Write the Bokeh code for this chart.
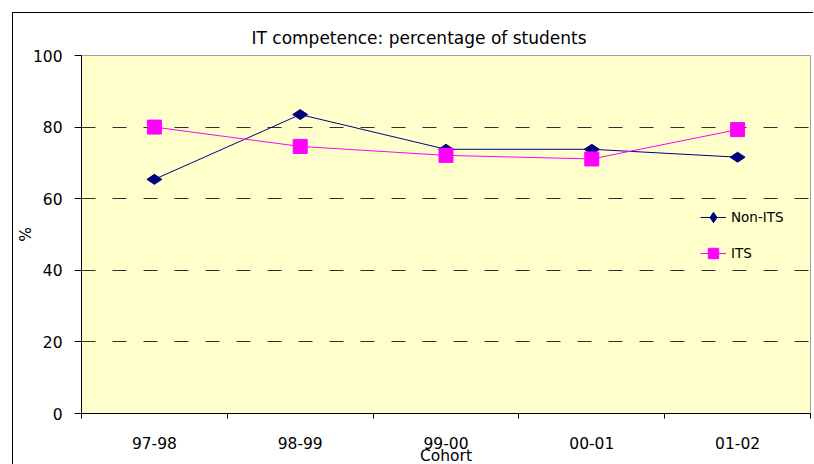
import math
from bokeh.plotting import figure
from bokeh.models import FixedTicker, Legend, LegendItem, Range1d
from bokeh.embed import file_html
from bokeh.resources import INLINE

cohorts = ["97-98", "98-99", "99-00", "00-01", "01-02"]
non_its = [65.4, 83.5, 73.8, 73.8, 71.6]
its = [80.0, 74.6, 72.1, 71.1, 79.3]
y_ticks = [0, 20, 40, 60, 80, 100]

FONT = "DejaVu Sans"

xs = [i + 0.5 for i in range(len(cohorts))]

p = figure(width=801, height=455, output_backend="svg", toolbar_location=None,
           x_range=Range1d(0, len(cohorts)), y_range=Range1d(0, 100),
           min_border_left=68, min_border_right=4, min_border_top=42, min_border_bottom=55,
           title="IT competence: percentage of students")
p.margin = (12, 0, -4, 12)
p.styles = {"border-left": "1px solid black", "border-top": "1px solid black"}

p.background_fill_color = "#FFFFCC"
p.border_fill_color = "white"
p.outline_line_color = "#A0A0A0"
p.outline_line_width = 1

p.title.text_font = FONT
p.title.text_font_size = "17px"
p.title.text_font_style = "normal"
p.title.text_color = "black"
p.title.align = "left"
p.title.offset = 170
p.title.standoff = 15

# x axis
p.xaxis.ticker = FixedTicker(ticks=xs, minor_ticks=list(range(len(cohorts) + 1)))
p.xaxis.major_label_overrides = {x: c for x, c in zip(xs, cohorts)}
p.xaxis.major_tick_line_color = None
p.xaxis.minor_tick_line_color = "black"
p.xaxis.minor_tick_out = 5
p.xaxis.minor_tick_in = 0
p.xaxis.major_label_standoff = 17
p.xaxis.major_label_text_font = FONT
p.xaxis.major_label_text_font_size = "15.5px"
p.xaxis.major_label_text_color = "black"
p.xaxis.axis_label = "Cohort"
p.xaxis.axis_label_text_font = FONT
p.xaxis.axis_label_text_font_size = "15.5px"
p.xaxis.axis_label_text_font_style = "normal"
p.xaxis.axis_label_text_color = "black"
p.xaxis.axis_label_standoff = -5
p.xaxis.axis_line_color = "black"

# y axis
p.yaxis.ticker = FixedTicker(ticks=y_ticks)
p.yaxis.minor_tick_line_color = None
p.yaxis.major_tick_out = 7
p.yaxis.major_tick_in = 0
p.yaxis.major_tick_line_color = "black"
p.yaxis.major_label_standoff = 12
p.yaxis.major_label_text_font = FONT
p.yaxis.major_label_text_font_size = "15.5px"
p.yaxis.major_label_text_color = "black"
p.yaxis.axis_label = "%"
p.yaxis.axis_label_text_font = FONT
p.yaxis.axis_label_text_font_size = "15.5px"
p.yaxis.axis_label_text_font_style = "normal"
p.yaxis.axis_label_text_color = "black"
p.yaxis.axis_label_standoff = -5
p.yaxis.axis_line_color = "black"

p.xgrid.grid_line_color = None
p.ygrid.grid_line_color = "#303030"
p.ygrid.grid_line_dash = "14 17"
p.ygrid.grid_line_width = 1

l1 = p.line(xs, non_its, line_color="#000080", line_width=1)
m1 = p.scatter(xs, non_its, marker="diamond", size=15, angle=math.pi / 2,
               fill_color="#000080", line_color="#000080")
l2 = p.line(xs, its, line_color="#FF00FF", line_width=1)
m2 = p.scatter(xs, its, marker="square", size=14,
               fill_color="#FF00FF", line_color="#FF00FF")

legend = Legend(items=[LegendItem(label="Non-ITS", renderers=[l1, m1]),
                       LegendItem(label="ITS", renderers=[l2, m2])],
                location=(619, 147), orientation="vertical")
legend.background_fill_alpha = 0
legend.border_line_color = None
legend.padding = 0
legend.margin = 0
legend.spacing = 10
legend.glyph_width = 26
legend.glyph_height = 26
legend.label_height = 26
legend.label_standoff = 5
legend.label_text_font = FONT
legend.label_text_font_size = "13.5px"
legend.label_text_color = "black"
p.add_layout(legend, "center")

open("out.html", "w").write(file_html(p, INLINE))
